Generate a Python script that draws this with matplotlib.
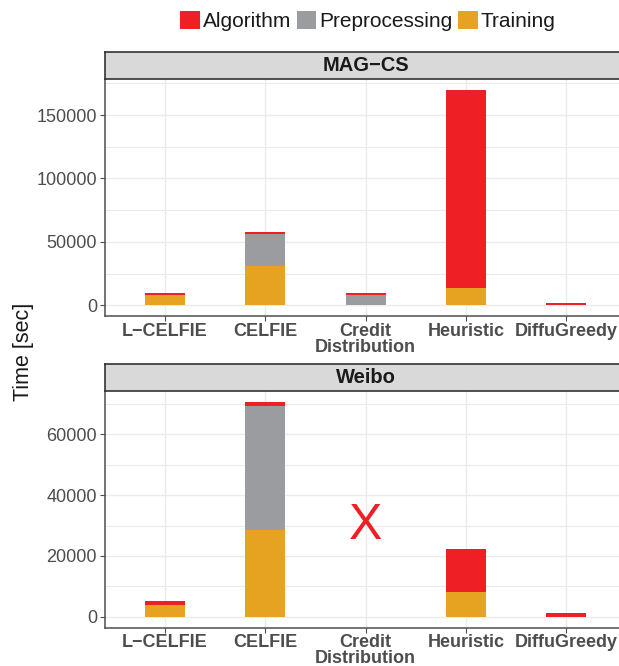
import matplotlib
matplotlib.use("Agg")
import matplotlib.pyplot as plt
from matplotlib.patches import Patch
import numpy as np

categories = ["L\u2212CELFIE", "CELFIE", "Credit\nDistribution", "Heuristic", "DiffuGreedy"]
series_names = ["Algorithm", "Preprocessing", "Training"]
colors = {"Algorithm": "#EE1F25", "Preprocessing": "#9B9C9F", "Training": "#E6A221"}

# MAG-CS (seconds)
mag_training = [8400, 30700, 300, 13900, 0]
mag_preprocessing = [0, 25800, 7400, 0, 250]
mag_algorithm = [1600, 1600, 1600, 156100, 1500]

# Weibo (seconds); Credit Distribution not available
weibo_training = [3850, 28600, 0, 8100, 0]
weibo_preprocessing = [0, 40800, 0, 0, 0]
weibo_algorithm = [1300, 1300, 0, 14300, 1200]

mag_yticks = [0, 50000, 100000, 150000]
weibo_yticks = [0, 20000, 40000, 60000]

plt.rcParams['font.family'] = ['Liberation Sans', 'DejaVu Sans']

W, H = 619, 666
fig = plt.figure(figsize=(W / 100, H / 100), dpi=100)

def fx(px):
    return px / W

def fy(py):
    return 1 - py / H

text_gray = "#4D4D4D"
axis_col = "#4D4D4D"
grid_col = "#EBEBEB"

def panel(top_strip, bot_strip, bot_axis, title, train, prep, algo, yticks, minor):
    left, right = 104.7, 626.6
    ax = fig.add_axes([fx(left), fy(bot_axis), fx(right - left), (bot_axis - bot_strip) / H])
    sax = fig.add_axes([fx(left), fy(bot_strip), fx(right - left), (bot_strip - top_strip) / H])
    sax.set_facecolor("#D9D9D9")
    sax.set_xticks([]); sax.set_yticks([])
    for s in sax.spines.values():
        s.set_color("#333333"); s.set_linewidth(1.2)
    sax.text(0.5, 0.5, title, transform=sax.transAxes, ha="center", va="center",
             fontsize=14.5, fontweight="bold", color="#1A1A1A")

    x = np.arange(len(categories))
    train = np.array(train, float); prep = np.array(prep, float); algo = np.array(algo, float)
    ax.bar(x, train, width=0.4, color=colors["Training"], zorder=3)
    ax.bar(x, prep, width=0.4, bottom=train, color=colors["Preprocessing"], zorder=3)
    ax.bar(x, algo, width=0.4, bottom=train + prep, color=colors["Algorithm"], zorder=3)
    total = (train + prep + algo).max()
    ax.set_ylim(-0.05 * total, 1.05 * total)
    ax.set_xlim(-0.6, len(categories) - 0.4)
    ax.set_yticks(yticks)
    ax.set_yticklabels([str(v) for v in yticks])
    ax.set_yticks(minor, minor=True)
    ax.set_xticks(x)
    ax.set_xticklabels(categories, fontweight="bold", fontsize=13, color=text_gray, linespacing=0.92)
    ax.tick_params(axis="y", which="major", labelsize=13, labelcolor=text_gray,
                   length=3.5, width=0.8, color=axis_col, pad=2)
    ax.tick_params(axis="y", which="minor", length=0)
    ax.tick_params(axis="x", length=3.5, width=0.8, color=axis_col, pad=1.5)
    ax.grid(True, which="major", color=grid_col, lw=1.0, zorder=0)
    ax.grid(True, which="minor", axis="y", color=grid_col, lw=0.8, zorder=0)
    ax.set_axisbelow(True)
    for sp in ["top", "right"]:
        ax.spines[sp].set_visible(False)
    for sp in ["left", "bottom"]:
        ax.spines[sp].set_color(axis_col); ax.spines[sp].set_linewidth(1.1)
    return ax

ax1 = panel(51.7, 79, 316, "MAG\u2212CS", mag_training, mag_preprocessing, mag_algorithm,
            mag_yticks, [25000, 75000, 125000, 175000])
ax2 = panel(363.6, 391, 627.5, "Weibo", weibo_training, weibo_preprocessing, weibo_algorithm,
            weibo_yticks, [10000, 30000, 50000, 70000])

ax2.text(2, 30000, "X", color="#EE1F25", fontsize=36, ha="center", va="center", zorder=4)

fig.text(fx(23), fy(352), "Time [sec]", rotation=90, ha="center", va="center",
         fontsize=15.5, color="#1A1A1A")

handles = [Patch(facecolor=colors[n], edgecolor="none", label=n) for n in series_names]
fig.legend(handles=handles, loc="center", bbox_to_anchor=(fx(368), fy(21)), ncol=3,
           frameon=False, fontsize=15, handlelength=0.95, handleheight=0.95,
           handletextpad=0.15, columnspacing=0.25, borderpad=0, labelcolor="#1A1A1A")

fig.savefig("out.png", dpi=100)
